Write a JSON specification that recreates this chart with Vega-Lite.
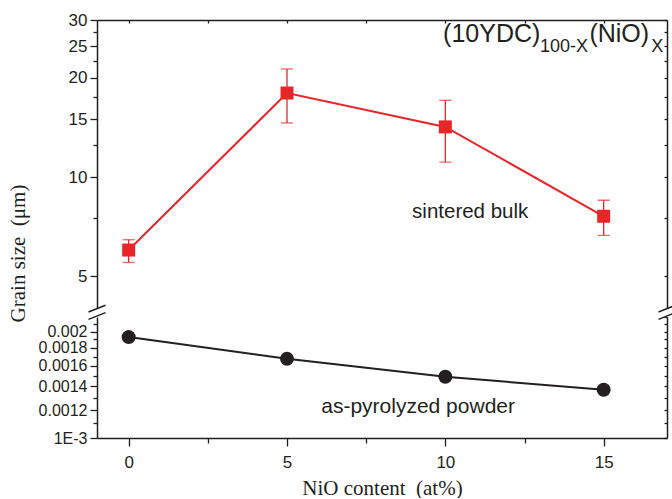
{
  "$schema": "https://vega.github.io/schema/vega-lite/v6.json",
  "padding": {"left": 7, "top": 11, "right": 0, "bottom": 0},
  "background": "white",
  "bounds": "flush",
  "datasets": {
    "bulk": [
      {"nio": 0, "size": 6.0, "lo": 5.5, "hi": 6.45},
      {"nio": 5, "size": 18.0, "lo": 14.6, "hi": 21.3},
      {"nio": 10, "size": 14.2, "lo": 11.1, "hi": 17.1},
      {"nio": 15, "size": 7.6, "lo": 6.65, "hi": 8.5}
    ],
    "powder": [
      {"nio": 0, "size": 0.00193},
      {"nio": 5, "size": 0.001675},
      {"nio": 10, "size": 0.00149},
      {"nio": 15, "size": 0.00137}
    ],
    "breaks": [
      {"nio": -1, "size": 4},
      {"nio": 17, "size": 4}
    ]
  },
  "spacing": 9,
  "vconcat": [
    {
      "width": 570,
      "height": 288,
      "resolve": {"axis": {"x": "independent", "y": "independent"}},
      "layer": [
        {
          "data": {"name": "bulk"},
          "mark": {"type": "rule", "color": "#E8262A", "strokeWidth": 1.3},
          "encoding": {
            "x": {"field": "nio", "type": "quantitative", "scale": {"domain": [-1, 17], "nice": false, "zero": false},
              "axis": {"orient": "top", "values": [0, 2.5, 5, 7.5, 10, 12.5, 15], "labels": false, "tickSize": -3, "title": null}},
            "y": {"field": "lo", "type": "quantitative", "scale": {"type": "log", "domain": [4, 30], "nice": false},
              "axis": {"orient": "left", "values": [5, 10, 15, 20, 25, 30], "tickSize": 7, "labelPadding": 3, "labelExpr": "'' + datum.value",
                "title": "Grain size\u00a0 (μm)", "titleFont": "Liberation Serif", "titleFontSize": 21, "titleFontWeight": "normal",
                "titleAngle": 270, "titleAlign": "center", "titleBaseline": "bottom", "titleX": -69, "titleY": 233}},
            "y2": {"field": "hi"}
          }
        },
        {
          "data": {"name": "bulk"},
          "mark": {"type": "tick", "orient": "horizontal", "color": "#E8262A", "size": 12, "thickness": 1.3},
          "encoding": {
            "x": {"field": "nio", "type": "quantitative", "axis": null},
            "y": {"field": "lo", "type": "quantitative",
              "axis": {"orient": "left", "values": [7.5, 12.5, 17.5, 22.5, 27.5], "tickSize": 4, "labels": false, "domain": false, "title": null}}
          }
        },
        {
          "data": {"name": "bulk"},
          "mark": {"type": "tick", "orient": "horizontal", "color": "#E8262A", "size": 12, "thickness": 1.3},
          "encoding": {
            "x": {"field": "nio", "type": "quantitative", "axis": null},
            "y": {"field": "hi", "type": "quantitative",
              "axis": {"orient": "right", "values": [5, 7.5, 10, 12.5, 15, 17.5, 20, 22.5, 25, 27.5, 30], "tickSize": -3, "labels": false, "domain": true, "title": null}}
          }
        },
        {
          "data": {"name": "bulk"},
          "mark": {"type": "line", "color": "#E8262A", "strokeWidth": 2},
          "encoding": {
            "x": {"field": "nio", "type": "quantitative", "axis": null},
            "y": {"field": "size", "type": "quantitative", "axis": null}
          }
        },
        {
          "data": {"name": "bulk"},
          "mark": {"type": "square", "color": "#E8262A", "size": 169, "opacity": 1},
          "encoding": {
            "x": {"field": "nio", "type": "quantitative", "axis": null},
            "y": {"field": "size", "type": "quantitative", "axis": null}
          }
        },
        {
          "data": {"name": "breaks"},
          "mark": {"type": "point", "shape": "M-0.85,0.40L0.85,-0.28M-0.85,1.14L0.85,0.46", "size": 400, "filled": false, "stroke": "#231F20", "strokeWidth": 1.5, "opacity": 1},
          "encoding": {
            "x": {"field": "nio", "type": "quantitative", "axis": null},
            "y": {"field": "size", "type": "quantitative", "axis": null}
          }
        },
        {
          "data": {"values": [{"label": "sintered bulk"}]},
          "mark": {"type": "text", "align": "left", "baseline": "middle", "font": "Liberation Sans", "fontSize": 20.5, "color": "#231F20"},
          "encoding": {
            "x": {"datum": 8.95, "type": "quantitative", "axis": null},
            "y": {"datum": 7.83, "type": "quantitative", "axis": null},
            "text": {"field": "label"}
          }
        },
        {
          "data": {"values": [{"label": "(10YDC)"}]},
          "mark": {"type": "text", "align": "left", "baseline": "alphabetic", "font": "Liberation Sans", "fontSize": 25, "color": "#231F20"},
          "encoding": {
            "x": {"datum": 9.93, "type": "quantitative", "axis": null},
            "y": {"datum": 25.67, "type": "quantitative", "axis": null},
            "text": {"field": "label"}
          }
        },
        {
          "data": {"values": [{"label": "(NiO)"}]},
          "mark": {"type": "text", "align": "left", "baseline": "alphabetic", "font": "Liberation Sans", "fontSize": 25, "color": "#231F20"},
          "encoding": {
            "x": {"datum": 14.55, "type": "quantitative", "axis": null},
            "y": {"datum": 25.67, "type": "quantitative", "axis": null},
            "text": {"field": "label"}
          }
        },
        {
          "data": {"values": [{"label": "100-X"}]},
          "mark": {"type": "text", "align": "left", "baseline": "alphabetic", "font": "Liberation Sans", "fontSize": 18, "color": "#231F20"},
          "encoding": {
            "x": {"datum": 12.99, "type": "quantitative", "axis": null},
            "y": {"datum": 23.94, "type": "quantitative", "axis": null},
            "text": {"field": "label"}
          }
        },
        {
          "data": {"values": [{"label": "X"}]},
          "mark": {"type": "text", "align": "left", "baseline": "alphabetic", "font": "Liberation Sans", "fontSize": 18, "color": "#231F20"},
          "encoding": {
            "x": {"datum": 16.5, "type": "quantitative", "axis": null},
            "y": {"datum": 23.94, "type": "quantitative", "axis": null},
            "text": {"field": "label"}
          }
        }
      ]
    },
    {
      "width": 570,
      "height": 121,
      "resolve": {"axis": {"x": "independent", "y": "independent"}},
      "layer": [
        {
          "data": {"name": "powder"},
          "mark": {"type": "line", "color": "#231F20", "strokeWidth": 2},
          "encoding": {
            "x": {"field": "nio", "type": "quantitative", "scale": {"domain": [-1, 17], "nice": false, "zero": false},
              "axis": {"orient": "bottom", "values": [0, 5, 10, 15], "tickSize": 8, "labelPadding": 8,
                "title": "NiO content\u00a0 (at%)", "titleFont": "Liberation Serif", "titleFontSize": 21, "titleFontWeight": "normal",
                "titleBaseline": "top", "titleY": 39}},
            "y": {"field": "size", "type": "quantitative", "scale": {"type": "log", "domain": [0.001, 0.0022], "nice": false},
              "axis": {"orient": "left", "values": [0.001, 0.0012, 0.0014, 0.0016, 0.0018, 0.002], "tickSize": 7, "labelPadding": 3,
                "labelFontSize": 16,
                "labelExpr": "datum.value < 0.00105 ? '1E-3' : '' + datum.value", "title": null}}
          }
        },
        {
          "data": {"name": "powder"},
          "mark": {"type": "circle", "color": "#231F20", "size": 196, "opacity": 1},
          "encoding": {
            "x": {"field": "nio", "type": "quantitative",
              "axis": {"orient": "bottom", "values": [2.5, 7.5, 12.5], "tickSize": 5, "labels": false, "domain": false, "title": null}},
            "y": {"field": "size", "type": "quantitative",
              "axis": {"orient": "left", "values": [0.0011, 0.0013, 0.0015, 0.0017, 0.0019, 0.0021], "tickSize": 4, "labels": false, "domain": false, "title": null}}
          }
        },
        {
          "data": {"values": [{"label": "as-pyrolyzed powder"}]},
          "mark": {"type": "text", "align": "center", "baseline": "middle", "font": "Liberation Sans", "fontSize": 21, "color": "#231F20"},
          "encoding": {
            "x": {"datum": 9.14, "type": "quantitative", "axis": null},
            "y": {"datum": 0.001224, "type": "quantitative",
              "axis": {"orient": "right", "values": [0.001, 0.0011, 0.0012, 0.0013, 0.0014, 0.0015, 0.0016, 0.0017, 0.0018, 0.0019, 0.002, 0.0021, 0.0022], "tickSize": -3, "labels": false, "domain": true, "title": null}},
            "text": {"field": "label"}
          }
        }
      ]
    }
  ],
  "config": {
    "view": {"stroke": null},
    "axis": {
      "grid": false,
      "domainColor": "#231F20",
      "domainWidth": 1.5,
      "tickColor": "#231F20",
      "tickWidth": 1.3,
      "labelFont": "Liberation Sans",
      "labelFontSize": 17,
      "labelColor": "#231F20",
      "labelOverlap": false,
      "labelBound": false,
      "labelFlush": false,
      "titleColor": "#231F20"
    }
  }
}
